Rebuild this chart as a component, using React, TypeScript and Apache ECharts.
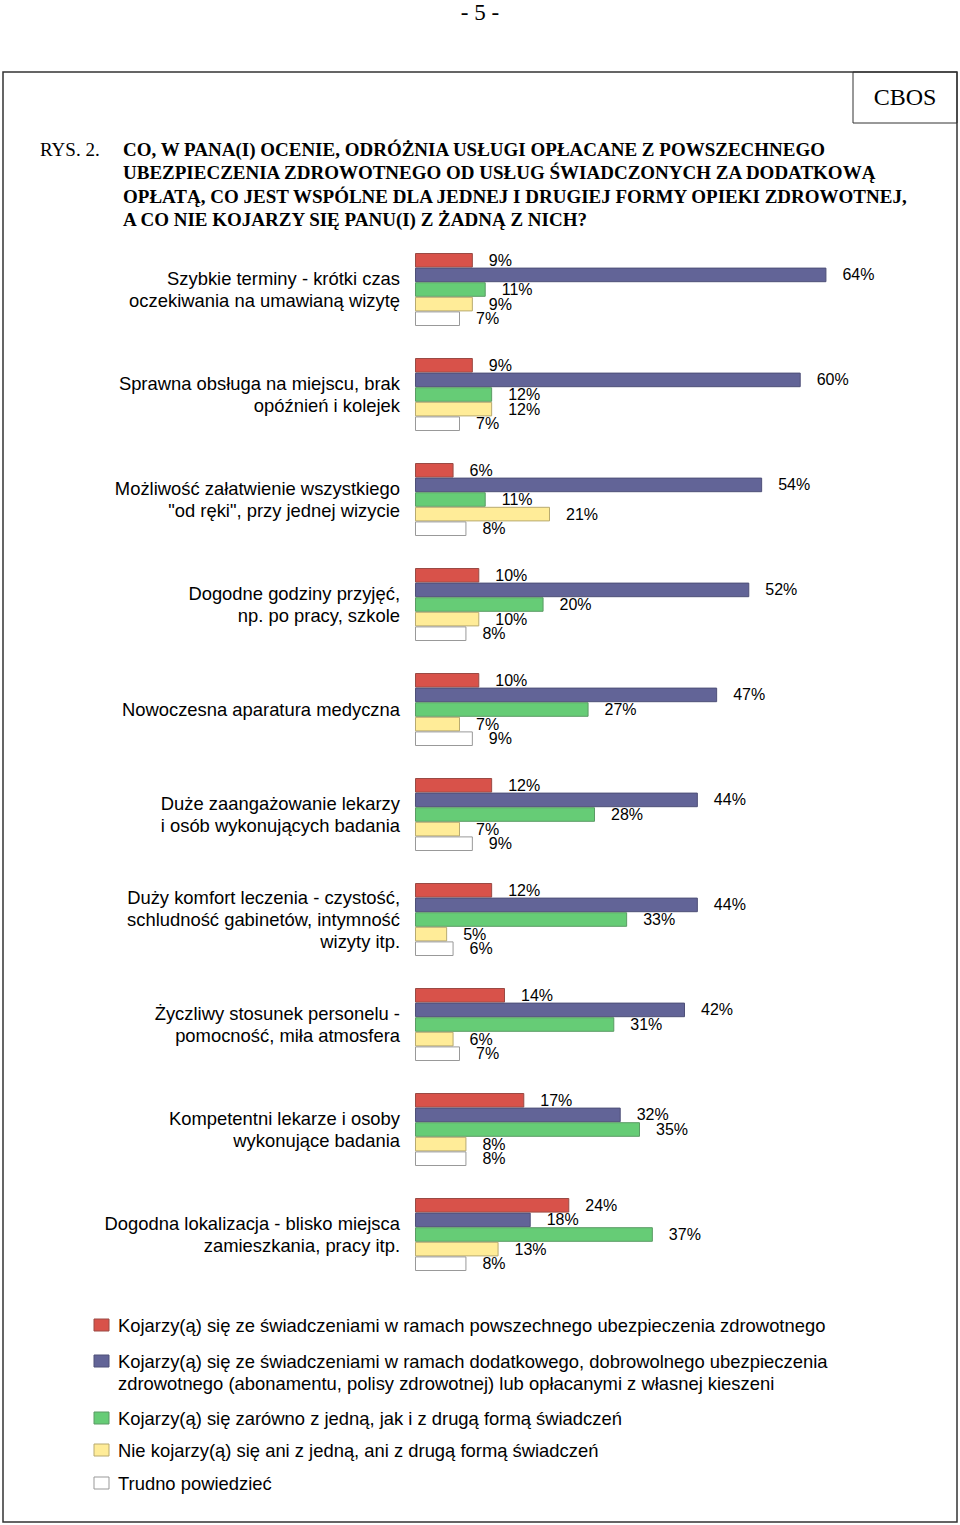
import React, { useEffect, useRef } from "react";
import * as echarts from "echarts";

const categories = [
  "Szybkie terminy - krótki czas\noczekiwania na umawianą wizytę",
  "Sprawna obsługa na miejscu, brak\nopóźnień i kolejek",
  "Możliwość załatwienie wszystkiego\n\"od ręki\", przy jednej wizycie",
  "Dogodne godziny przyjęć,\nnp. po pracy, szkole",
  "Nowoczesna aparatura medyczna",
  "Duże zaangażowanie lekarzy\ni osób wykonujących badania",
  "Duży komfort leczenia - czystość,\nschludność gabinetów, intymność\nwizyty itp.",
  "Życzliwy stosunek personelu -\npomocność, miła atmosfera",
  "Kompetentni lekarze i osoby\nwykonujące badania",
  "Dogodna lokalizacja - blisko miejsca\nzamieszkania, pracy itp.",
];

const seriesNames = [
  "Kojarzy(ą) się ze świadczeniami w ramach powszechnego ubezpieczenia zdrowotnego",
  "Kojarzy(ą) się ze świadczeniami w ramach dodatkowego, dobrowolnego ubezpieczenia\nzdrowotnego (abonamentu, polisy zdrowotnej) lub opłacanymi z własnej kieszeni",
  "Kojarzy(ą) się zarówno z jedną, jak i z drugą formą świadczeń",
  "Nie kojarzy(ą) się ani z jedną, ani z drugą formą świadczeń",
  "Trudno powiedzieć",
];

const powszechne = [9, 9, 6, 10, 10, 12, 12, 14, 17, 24];
const dodatkowe = [64, 60, 54, 52, 47, 44, 44, 42, 32, 18];
const obie = [11, 12, 11, 20, 27, 28, 33, 31, 35, 37];
const zadna = [9, 12, 21, 10, 7, 7, 5, 6, 8, 13];
const trudno = [7, 7, 8, 8, 9, 9, 6, 7, 8, 8];

const seriesData = [powszechne, dodatkowe, obie, zadna, trudno];
const colors = ["#D8524A", "#626497", "#66CC76", "#FFEC98", "#FFFFFF"];
const borderColors = ["#9a4a44", "#4e5078", "#5a9a64", "#b8aa70", "#999999"];

const titleLines = [
  "CO, W PANA(I) OCENIE, ODRÓŻNIA USŁUGI OPŁACANE Z POWSZECHNEGO",
  "UBEZPIECZENIA ZDROWOTNEGO OD USŁUG ŚWIADCZONYCH ZA DODATKOWĄ",
  "OPŁATĄ, CO JEST WSPÓLNE DLA JEDNEJ I DRUGIEJ FORMY OPIEKI ZDROWOTNEJ,",
  "A CO NIE KOJARZY SIĘ PANU(I) Z ŻADNĄ Z NICH?",
];

const SANS = "'Liberation Sans', Arial, sans-serif";
const SERIF = "'Liberation Serif', 'Times New Roman', serif";

export default function App() {
  const ref = useRef<HTMLDivElement>(null);

  useEffect(() => {
    if (!ref.current) return;
    const chart = echarts.init(ref.current, null, { renderer: "svg" });

    const legendY = [1325, 1361, 1418, 1450, 1483];
    const legendGraphics: any[] = [];
    seriesNames.forEach((name, i) => {
      legendGraphics.push({
        type: "rect",
        shape: { x: 94, y: legendY[i] - 6, width: 15, height: 12 },
        style: { fill: colors[i], stroke: borderColors[i], lineWidth: 1 },
      });
      legendGraphics.push({
        type: "text",
        x: 118,
        y: legendY[i] - 11,
        style: {
          text: name,
          font: `18.4px ${SANS}`,
          fill: "#000",
          lineHeight: 22,
          textVerticalAlign: "top",
        },
      });
    });

    const titleGraphics: any[] = titleLines.map((t, i) => ({
      type: "text",
      x: 123,
      y: 149 + i * 23.6,
      style: {
        text: t,
        font: `bold 19px ${SERIF}`,
        fill: "#000",
        textVerticalAlign: "middle",
      },
    }));

    chart.setOption({
      animation: false,
      backgroundColor: "#fff",
      grid: { left: 415, right: 95, top: 237, bottom: 238, containLabel: false },
      xAxis: {
        type: "value",
        min: 0,
        max: 70,
        show: false,
        splitLine: { show: false },
      },
      yAxis: {
        type: "category",
        data: categories,
        inverse: true,
        axisLine: { show: false },
        axisTick: { show: false },
        splitLine: { show: false },
        axisLabel: {
          margin: 15,
          fontSize: 18.4,
          fontFamily: SANS,
          color: "#000",
          lineHeight: 22,
          align: "right",
        },
      },
      series: seriesData.map((d, i) => ({
        type: "bar",
        name: seriesNames[i],
        data: d,
        barWidth: 14.6,
        barGap: "0%",
        itemStyle: { color: colors[i], borderColor: borderColors[i], borderWidth: 1 },
        label: {
          show: true,
          position: "right",
          distance: 16,
          formatter: "{c}%",
          fontSize: 16,
          fontFamily: SANS,
          color: "#000",
        },
      })),
      graphic: [
        {
          type: "rect",
          z: -10,
          shape: { x: 3, y: 72, width: 954, height: 1450 },
          style: { fill: "none", stroke: "#333", lineWidth: 1.5 },
        },
        {
          type: "rect",
          shape: { x: 853, y: 72, width: 104, height: 51 },
          style: { fill: "none", stroke: "#333", lineWidth: 1 },
        },
        {
          type: "text",
          x: 905,
          y: 97,
          style: {
            text: "CBOS",
            font: `24px ${SERIF}`,
            fill: "#000",
            textAlign: "center",
            textVerticalAlign: "middle",
          },
        },
        {
          type: "text",
          x: 480,
          y: 12,
          style: {
            text: "- 5 -",
            font: `23px ${SERIF}`,
            fill: "#000",
            textAlign: "center",
            textVerticalAlign: "middle",
          },
        },
        {
          type: "text",
          x: 40,
          y: 149,
          style: {
            text: "RYS. 2.",
            font: `19px ${SERIF}`,
            fill: "#000",
            textVerticalAlign: "middle",
          },
        },
        ...titleGraphics,
        ...legendGraphics,
      ],
    });

    return () => {
      chart.dispose();
    };
  }, []);

  return (
    <div
      ref={ref}
      style={{ position: "absolute", left: 0, top: 0, width: 960, height: 1525 }}
    />
  );
}
